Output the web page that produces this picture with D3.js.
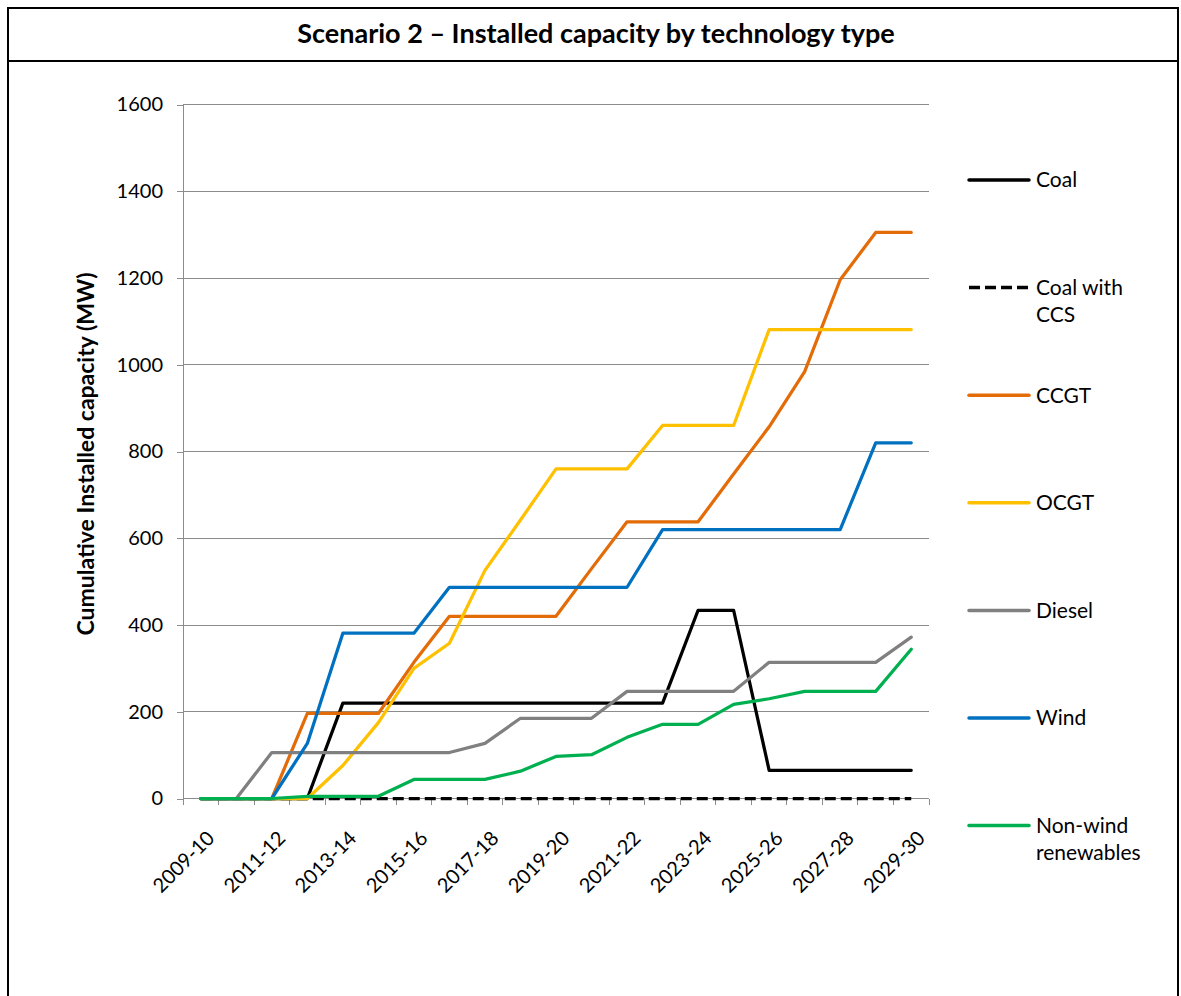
<!DOCTYPE html>
<html>
<head>
<meta charset="utf-8">
<script src="https://cdn.jsdelivr.net/npm/d3@7/dist/d3.min.js"></script>
<style>
  html, body { margin: 0; padding: 0; background: #fff; }
  svg { display: block; font-family: Lato, "Open Sans", sans-serif; }
</style>
</head>
<body>
<svg id="chart" width="1181" height="996"></svg>
<script>
const categories = ["2009-10","2010-11","2011-12","2012-13","2013-14","2014-15","2015-16","2016-17","2017-18","2018-19","2019-20","2020-21","2021-22","2022-23","2023-24","2024-25","2025-26","2026-27","2027-28","2028-29","2029-30"];
const tickLabels = ["2009-10","2011-12","2013-14","2015-16","2017-18","2019-20","2021-22","2023-24","2025-26","2027-28","2029-30"];
const yTicks = [0,200,400,600,800,1000,1200,1400,1600];

const coal       = [0,0,0,0,220,220,220,220,220,220,220,220,220,220,434,434,65,65,65,65,65];
const coalCCS    = [0,0,0,0,0,0,0,0,0,0,0,0,0,0,0,0,0,0,0,0,0];
const ccgt       = [0,0,0,196,196,196,314,420,420,420,420,530,638,638,638,748,857,984,1196,1305,1305];
const ocgt       = [0,0,0,0,76,175,300,358,526,642,760,760,760,860,860,860,1081,1081,1081,1081,1081];
const diesel     = [0,0,106,106,106,106,106,106,127,185,185,185,247,247,247,247,314,314,314,314,372];
const wind       = [0,0,0,127,381,381,381,487,487,487,487,487,487,620,620,620,620,620,620,820,820];
const nonWind    = [0,0,0,5,5,5,44,44,44,63,97,101,141,171,171,217,230,247,247,247,344];

const seriesNames  = ["Coal","Coal with CCS","CCGT","OCGT","Diesel","Wind","Non-wind renewables"];
const seriesLabels = [["Coal"],["Coal with","CCS"],["CCGT"],["OCGT"],["Diesel"],["Wind"],["Non-wind","renewables"]];
const seriesValues = [coal, coalCCS, ccgt, ocgt, diesel, wind, nonWind];
const seriesColors = ["#000000","#000000","#E36C09","#FFC000","#808080","#0070C0","#00B050"];
const seriesDash   = [null,"11,5",null,null,null,null,null];

const svg = d3.select("#chart");

// frame
const frame = svg.append("g").attr("stroke","#000").attr("stroke-width",2).attr("fill","none");
frame.append("line").attr("x1",8).attr("x2",8).attr("y1",7).attr("y2",996);
frame.append("line").attr("x1",1178).attr("x2",1178).attr("y1",7).attr("y2",996);
frame.append("line").attr("x1",7).attr("x2",1179).attr("y1",8).attr("y2",8);
frame.append("line").attr("x1",7).attr("x2",1179).attr("y1",61).attr("y2",61);

svg.append("text").attr("x",596).attr("y",43).attr("text-anchor","middle")
  .attr("font-size",27).attr("font-weight","bold").attr("fill","#000")
  .text("Scenario 2 \u2013 Installed capacity by technology type");

const x = d3.scaleBand().domain(categories).range([183, 929]);
const y = d3.scaleLinear().domain([0,1600]).range([798.5, 104.5]);
const cx = c => x(c) + x.bandwidth()/2;

// gridlines
svg.append("g").selectAll("line").data(yTicks.filter(d=>d>0)).join("line")
  .attr("x1",183).attr("x2",929).attr("y1",d=>y(d)).attr("y2",d=>y(d))
  .attr("stroke","#8C8C8C").attr("stroke-width",1).attr("shape-rendering","crispEdges");

// y axis
const yAxis = svg.append("g").attr("transform","translate(183,0)")
  .call(d3.axisLeft(y).tickValues(yTicks).tickSize(6).tickPadding(14).tickFormat(d3.format("d")));
yAxis.select(".domain").attr("stroke","#8C8C8C").attr("shape-rendering","crispEdges");
yAxis.selectAll(".tick line").attr("stroke","#8C8C8C").attr("shape-rendering","crispEdges");
yAxis.selectAll(".tick text").attr("font-size",20).attr("font-family","Lato, sans-serif").attr("fill","#000");

// x axis
const xAxis = svg.append("g").attr("transform","translate(0,798.5)");
xAxis.append("line").attr("x1",183).attr("x2",929).attr("stroke","#8C8C8C").attr("shape-rendering","crispEdges");
const bounds = categories.map(c => x(c)).concat([x.range()[1]]);
xAxis.selectAll("line.tk").data(bounds).join("line").attr("class","tk")
  .attr("x1",d=>d).attr("x2",d=>d).attr("y1",0).attr("y2",6)
  .attr("stroke","#8C8C8C").attr("shape-rendering","crispEdges");
xAxis.selectAll("text").data(tickLabels).join("text")
  .attr("transform", d => `translate(${cx(d)+10},${36}) rotate(-45)`)
  .attr("text-anchor","end").attr("font-size",20).attr("fill","#000").attr("dy","0.35em")
  .text(d=>d);

// y axis title
svg.append("text").attr("transform","translate(94,454) rotate(-90)")
  .attr("text-anchor","middle").attr("font-size",23).attr("font-weight","bold")
  .text("Cumulative Installed capacity (MW)");

// lines
const line = d3.line().x((d,i)=>cx(categories[i])).y(d=>y(d));
const lines = svg.append("g");
seriesValues.forEach((vals,k) => {
  lines.append("path").datum(vals).attr("d",line)
    .attr("fill","none").attr("stroke",seriesColors[k]).attr("stroke-width",3.25)
    .attr("stroke-linejoin","round").attr("stroke-linecap", seriesDash[k] ? "butt" : "round")
    .attr("stroke-dasharray", seriesDash[k]);
});

// legend
const legend = svg.append("g");
seriesNames.forEach((name,k) => {
  const ly = 180 + k*107.6;
  legend.append("line").attr("x1",969).attr("x2",1029).attr("y1",ly).attr("y2",ly)
    .attr("stroke",seriesColors[k]).attr("stroke-width",3.5)
    .attr("stroke-linecap", seriesDash[k] ? "butt" : "round")
    .attr("stroke-dasharray",seriesDash[k] ? "11,5" : null);
  const t = legend.append("text").attr("x",1036).attr("y",ly).attr("font-size",21).attr("fill","#000");
  seriesLabels[k].forEach((s,j) => {
    t.append("tspan").attr("x",1036).attr("dy", j===0 ? "0.35em" : "27px").text(s);
  });
});
</script>
</body>
</html>
